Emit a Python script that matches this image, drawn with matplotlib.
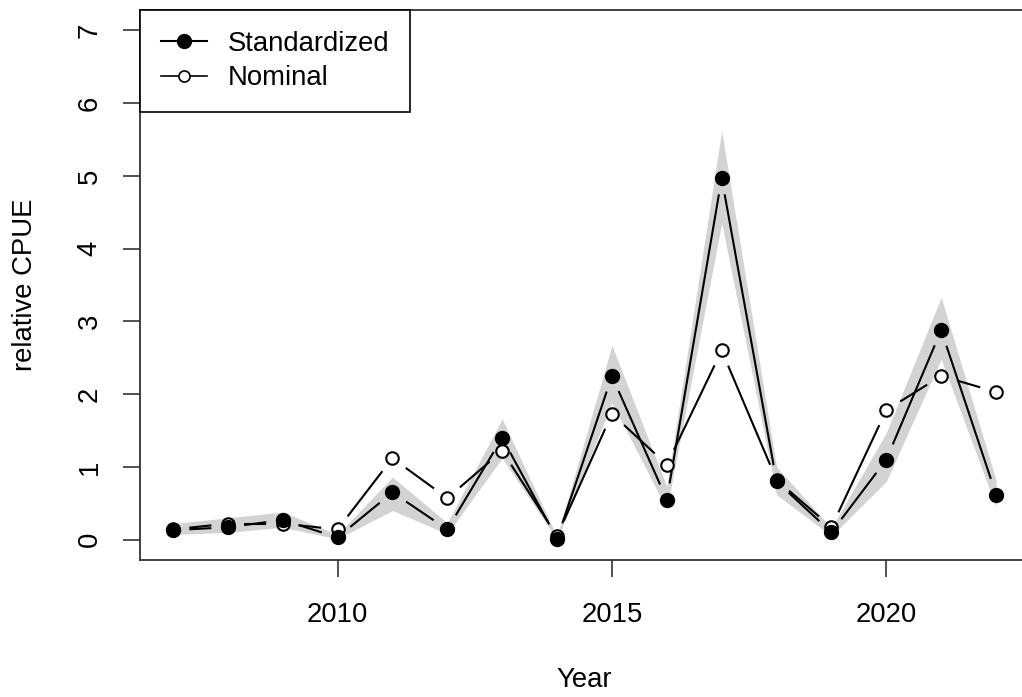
import numpy as np
import matplotlib
matplotlib.use("Agg")
import matplotlib.pyplot as plt
from matplotlib.collections import LineCollection
from matplotlib.lines import Line2D

plt.rcParams['font.family'] = ['Liberation Sans', 'DejaVu Sans']

# data
years = np.arange(2007, 2023)
std_cpue = [0.13, 0.17, 0.27, 0.03, 0.65, 0.14, 1.40, 0.01,
            2.25, 0.55, 4.97, 0.80, 0.10, 1.10, 2.88, 0.62]
std_lower = [0.07, 0.10, 0.17, 0.01, 0.40, 0.08, 1.12, 0.00,
             1.88, 0.42, 4.35, 0.62, 0.05, 0.80, 2.48, 0.45]
std_upper = [0.22, 0.30, 0.38, 0.07, 0.86, 0.23, 1.66, 0.04,
             2.67, 0.73, 5.62, 1.00, 0.16, 1.47, 3.33, 0.82]
nom_cpue = [0.14, 0.22, 0.22, 0.14, 1.12, 0.57, 1.22, 0.05,
            1.73, 1.03, 2.60, 0.82, 0.17, 1.78, 2.25, 2.03]

W, H = 1022, 697
fig = plt.figure(figsize=(W / 100, H / 100), dpi=100)
# plot region (R-style box), right edge runs past the image edge
ax = fig.add_axes([140 / W, (H - 560) / H, 889 / W, 550 / H])
ax.set_xlim(2006.4, 2022.6)
ax.set_ylim(-0.28, 7.28)

fs = 19.8
ax.fill_between(years, std_lower, std_upper, color='#d3d3d3', lw=0, zorder=1)


def gapped_line(x, y, gap_px, **kw):
    # R type="b": segments stop short of each point
    pts = ax.transData.transform(np.column_stack([x, y]))
    segs = []
    for p0, p1 in zip(pts[:-1], pts[1:]):
        d = p1 - p0
        L = np.hypot(*d)
        if L <= 2 * gap_px:
            continue
        u = d / L
        a = ax.transData.inverted().transform(p0 + u * gap_px)
        b = ax.transData.inverted().transform(p1 - u * gap_px)
        segs.append([a, b])
    ax.add_collection(LineCollection(segs, **kw))


gapped_line(years, std_cpue, 16.5, colors='black', linewidths=1.5, zorder=2)
gapped_line(years, nom_cpue, 16.5, colors='black', linewidths=1.5, zorder=2)

ax.plot(years, nom_cpue, ls='none', marker='o', ms=9, mfc='white',
        mec='black', mew=1.5, zorder=3)
ax.plot(years, std_cpue, ls='none', marker='o', ms=10, mfc='black',
        mec='black', zorder=4)

ax.set_xticks([2010, 2015, 2020])
ax.set_yticks(range(0, 8))
ax.tick_params(axis='both', length=12, width=1.2, color='#333333',
               labelsize=fs)
ax.tick_params(axis='x', pad=18)
ax.tick_params(axis='y', pad=15)
for lab in ax.get_yticklabels():
    lab.set_rotation(90)
    lab.set_va('center')
for s in ax.spines.values():
    s.set_color('#333333')
    s.set_linewidth(1.3)

ax.set_xlabel('Year', fontsize=fs)
ax.xaxis.set_label_coords(0.5, -0.218)
ax.xaxis.label.set_va('center')
ax.set_ylabel('relative CPUE', fontsize=fs)
ax.yaxis.set_label_coords(-0.129, 0.5)
ax.yaxis.label.set_va('center')

handles = [
    Line2D([], [], color='black', lw=1.5, marker='o', ms=10, mfc='black'),
    Line2D([], [], color='black', lw=1.2, marker='o', ms=8, mfc='white',
           mew=1.2),
]
leg = ax.legend(handles, ['Standardized', 'Nominal'], loc='upper left',
                bbox_to_anchor=(0, 1), borderaxespad=0, fancybox=False,
                framealpha=1, edgecolor='black', fontsize=fs,
                handlelength=1.7, handletextpad=0.75, borderpad=0.75,
                labelspacing=0.32)
leg.get_frame().set_linewidth(1.2)
leg.set_zorder(5)

fig.savefig('out.png', dpi=100)
